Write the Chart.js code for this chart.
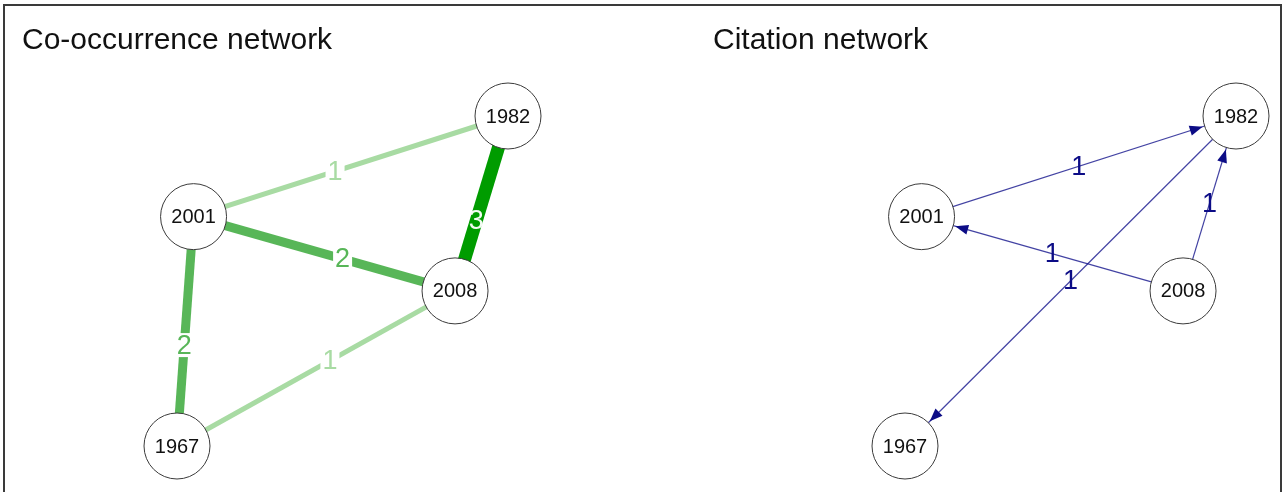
<!DOCTYPE html>
<html>
<head>
<meta charset="utf-8">
<script src="https://cdn.jsdelivr.net/npm/chart.js@4.4.1/dist/chart.umd.min.js"></script>
<style>
  html, body { margin: 0; padding: 0; background: #fff; }
  body { width: 1282px; height: 492px; position: relative; overflow: hidden; }
  .panel { position: absolute; top: 0; width: 641px; height: 492px; }
  #frame { position: absolute; left: 3px; top: 4px; width: 1275px; height: 500px;
           border: 2px solid #3a3a3a; pointer-events: none; }
</style>
</head>
<body>
<div class="panel" style="left:0"><canvas id="cooc"></canvas></div>
<div class="panel" style="left:641px"><canvas id="cite"></canvas></div>
<div id="frame"></div>
<script>
// node layout (shared by both graphs)
const years   = ['1967', '1982', '2001', '2008'];
const layoutX = [-1, 1, -0.9, 0.68];
const layoutY = [-1, 1, 0.39, -0.06];

// co-occurrence edges (undirected)
const coFrom   = ['2001', '2001', '1982', '2001', '2008'];
const coTo     = ['1982', '2008', '2008', '1967', '1967'];
const coWeight = [1, 2, 3, 2, 1];

// citation edges (directed: from cites to)
const citeFrom   = ['2001', '2008', '2008', '1982'];
const citeTo     = ['1982', '2001', '1982', '1967'];
const citeWeight = [1, 1, 1, 1];

// styling
const greenByWeight = { 1: '#a8dba3', 2: '#58b658', 3: '#009c00' };
const widthByWeight = { 1: 5, 2: 9, 3: 13 };
const coLabelAt = [0.45, 0.57, 0.6, 0.56, 0.45]; // where the label sits along each edge
const NODE_R = 33;
const NAVY = '#0c0c86';

function nodePoint(y) {
  const i = years.indexOf(y);
  return { x: layoutX[i], y: layoutY[i] };
}

function edgeDatasets(from, to, weight, styleFn) {
  return from.map((f, i) => Object.assign({
    type: 'line',
    data: [nodePoint(f), nodePoint(to[i])],
    pointRadius: 0,
    pointHoverRadius: 0,
    order: 2,
    clip: false
  }, styleFn(weight[i], i)));
}

function nodeDataset() {
  return {
    type: 'scatter',
    data: years.map(nodePoint),
    pointRadius: NODE_R,
    pointHoverRadius: NODE_R,
    pointBackgroundColor: '#ffffff',
    pointBorderColor: '#3a3a3a',
    pointBorderWidth: 1,
    pointHoverBorderWidth: 1,
    order: 0,
    clip: false
  };
}

const netPlugin = {
  id: 'net',
  afterDatasetsDraw(chart, args, opts) {
    const ctx = chart.ctx;
    const xs = chart.scales.x, ys = chart.scales.y;
    const px = y => { const p = nodePoint(y); return [xs.getPixelForValue(p.x), ys.getPixelForValue(p.y)]; };

    ctx.save();
    // arrowheads
    if (opts.arrows) {
      ctx.fillStyle = NAVY;
      opts.from.forEach((f, i) => {
        const [x1, y1] = px(f), [x2, y2] = px(opts.to[i]);
        const dx = x2 - x1, dy = y2 - y1, len = Math.hypot(dx, dy);
        const ux = dx / len, uy = dy / len;
        const tx = x2 - ux * (NODE_R + 2), ty = y2 - uy * (NODE_R + 2);
        const bx = tx - ux * 13, by = ty - uy * 13;
        ctx.beginPath();
        ctx.moveTo(tx, ty);
        ctx.lineTo(bx - uy * 5, by + ux * 5);
        ctx.lineTo(bx + uy * 5, by - ux * 5);
        ctx.closePath();
        ctx.fill();
      });
    }

    // edge labels
    ctx.font = opts.labelFont;
    ctx.textAlign = 'center';
    ctx.textBaseline = 'middle';
    opts.from.forEach((f, i) => {
      const [x1, y1] = px(f), [x2, y2] = px(opts.to[i]);
      const t = opts.labelAt ? opts.labelAt[i] : 0.5;
      const lx = x1 + (x2 - x1) * t, ly = y1 + (y2 - y1) * t;
      const txt = String(opts.weight[i]);
      if (opts.labelBg && opts.weight[i] < 3) {
        const w = ctx.measureText(txt).width;
        ctx.fillStyle = '#ffffff';
        ctx.fillRect(lx - w / 2 - 2, ly - 12, w + 4, 24);
      }
      ctx.fillStyle = opts.labelColor(opts.weight[i]);
      ctx.fillText(txt, lx, ly + 1);
    });

    // node labels
    ctx.font = '20px "Liberation Sans", Arial, sans-serif';
    ctx.fillStyle = '#111111';
    years.forEach(y => {
      const [x, yy] = px(y);
      ctx.fillText(y, x, yy + 1);
    });

    // panel title
    ctx.font = '30px "Liberation Sans", Arial, sans-serif';
    ctx.textAlign = 'left';
    ctx.textBaseline = 'alphabetic';
    ctx.fillStyle = '#111111';
    ctx.fillText(opts.title, opts.titleX, 49);
    ctx.restore();
  }
};

function baseOptions(padLeft, padRight, netOpts) {
  return {
    responsive: false,
    animation: false,
    events: [],
    layout: { padding: { left: padLeft, right: padRight, top: 116, bottom: 46 } },
    scales: {
      x: { type: 'linear', min: -1, max: 1, display: false },
      y: { type: 'linear', min: -1, max: 1, display: false }
    },
    plugins: {
      legend: { display: false },
      tooltip: { enabled: false },
      net: netOpts
    }
  };
}

function makeChart(id, datasets, padLeft, padRight, netOpts) {
  const el = document.getElementById(id);
  el.width = 641;
  el.height = 492;
  return new Chart(el, {
    type: 'scatter',
    data: { datasets: datasets },
    options: baseOptions(padLeft, padRight, netOpts),
    plugins: [netPlugin]
  });
}

makeChart('cooc',
  edgeDatasets(coFrom, coTo, coWeight, w => ({
    borderColor: greenByWeight[w],
    borderWidth: widthByWeight[w],
    borderCapStyle: 'butt'
  })).concat([nodeDataset()]),
  177, 133,
  {
    title: 'Co-occurrence network', titleX: 22,
    from: coFrom, to: coTo, weight: coWeight, labelAt: coLabelAt,
    labelFont: '27px "Liberation Sans", Arial, sans-serif',
    labelBg: true,
    labelColor: w => (w === 3 ? '#f2fbf2' : greenByWeight[w]),
    arrows: false
  });

makeChart('cite',
  edgeDatasets(citeFrom, citeTo, citeWeight, () => ({
    borderColor: 'rgba(20,20,140,0.8)',
    borderWidth: 1.2
  })).concat([nodeDataset()]),
  264, 46,
  {
    title: 'Citation network', titleX: 72,
    from: citeFrom, to: citeTo, weight: citeWeight,
    labelFont: '27px "Liberation Sans", Arial, sans-serif',
    labelBg: false,
    labelColor: () => NAVY,
    arrows: true
  });
</script>
</body>
</html>
